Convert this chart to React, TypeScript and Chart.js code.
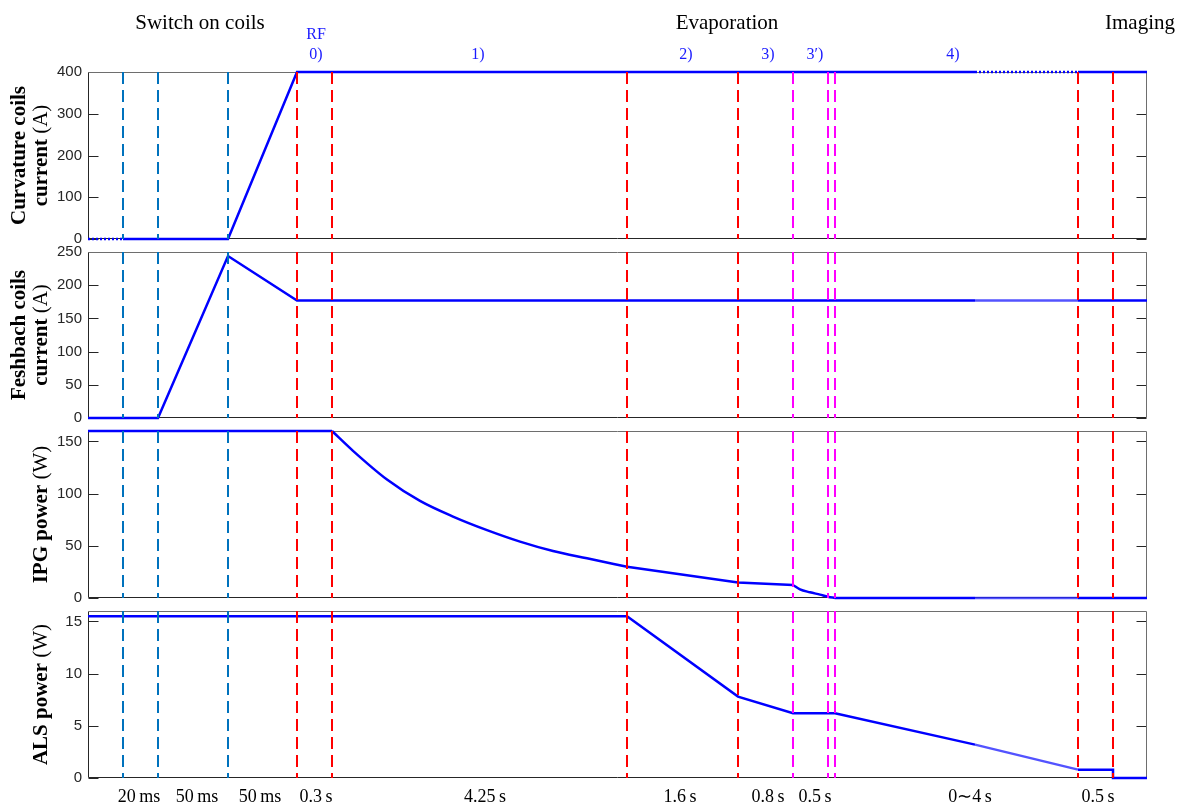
import React, { useEffect, useRef } from 'react';
import { Chart, registerables } from 'chart.js';
Chart.register(...registerables);

// x axis is a sequence-step axis (not proportional to time)
const X_MAX = 1059;

const blueLineX = [35, 70, 140];
const redLineX = [209, 244, 539, 650, 990, 1025];
const magentaLineX = [705, 740, 747];

const curvatureX = [0, 35, 140, 209, 887, 990, 1059];
const curvatureY = [0, 0, 0, 400, 400, 400, 400];
const feshbachX = [0, 70, 140, 209, 887, 990, 1059];
const feshbachY = [0, 0, 244, 177, 177, 177, 177];
const ipgX = [0, 244, 265, 299, 332, 365, 399, 432, 465, 499, 539, 650, 705, 712, 722, 732, 740, 747, 887, 990, 1059];
const ipgY = [160, 160, 141, 113.5, 93, 78, 65, 54, 45, 38, 30, 14.8, 12.5, 8.3, 5.5, 3.2, 1.2, 0, 0, 0, 0];
// index ranges of the IPG curve drawn as smooth (monotone) pieces
const ipgSmooth = [[1, 10], [12, 17]];
const alsX = [0, 539, 650, 705, 747, 887, 990, 1025, 1025, 1059];
const alsY = [15.5, 15.5, 7.8, 6.2, 6.2, 3.2, 0.8, 0.8, 0, 0];

const stageLabels = ['Switch on coils', 'Evaporation', 'Imaging'];
const stageX = [112, 639, 1052];
const phaseLabels = ['0)', '1)', '2)', '3)', '3\u2032)', '4)'];
const phaseX = [228, 390, 598, 680, 727, 865];
const durationLabels = ['20\u2009ms', '50\u2009ms', '50\u2009ms', '0.3\u2009s', '4.25\u2009s', '1.6\u2009s', '0.8\u2009s', '0.5\u2009s', '0\u223C4\u2009s', '0.5\u2009s'];
const durationX = [51, 109, 172, 228, 397, 592, 680, 727, 882, 1010];

type Span = { t: string; b: boolean };

const panels = [
  { top: 0, height: 255, padTop: 72, padBottom: 16, max: 400, step: 100, xs: curvatureX, ys: curvatureY, dotted: true, smooth: [] as number[][],
    title: [[{ t: 'Curvature coils', b: true }], [{ t: 'current ', b: true }, { t: '(A)', b: false }]] as Span[][] },
  { top: 236, height: 198, padTop: 16, padBottom: 16, max: 250, step: 50, xs: feshbachX, ys: feshbachY, dotted: false, smooth: [] as number[][],
    title: [[{ t: 'Feshbach coils', b: true }], [{ t: 'current ', b: true }, { t: '(A)', b: false }]] as Span[][] },
  { top: 415, height: 199, padTop: 16, padBottom: 16, max: 160, step: 50, xs: ipgX, ys: ipgY, dotted: false, smooth: ipgSmooth,
    title: [[{ t: 'IPG power ', b: true }, { t: '(W)', b: false }]] as Span[][] },
  { top: 595, height: 209, padTop: 16, padBottom: 26, max: 16, step: 5, xs: alsX, ys: alsY, dotted: false, smooth: [] as number[][],
    title: [[{ t: 'ALS power ', b: true }, { t: '(W)', b: false }]] as Span[][] },
];

const SERIF = '"Liberation Serif", "Times New Roman", serif';

function framePlugin() {
  return {
    id: 'frame',
    beforeDatasetsDraw(chart: any) {
      const { ctx, chartArea: a, scales } = chart;
      const L = Math.round(a.left) + 0.5, R = Math.round(a.right) - 0.5;
      const T = Math.round(a.top) + 0.5, B = Math.round(a.bottom) - 0.5;
      ctx.save();
      ctx.lineWidth = 1;
      ctx.strokeStyle = '#262626';
      scales.y.ticks.forEach((t: any) => {
        const py = Math.round(scales.y.getPixelForValue(t.value)) + 0.5;
        ctx.beginPath();
        ctx.moveTo(L, py); ctx.lineTo(L + 10, py);
        ctx.moveTo(R, py); ctx.lineTo(R - 10, py);
        ctx.stroke();
      });
      ctx.beginPath();
      ctx.moveTo(L, T); ctx.lineTo(L, B); ctx.lineTo(R, B);
      ctx.stroke();
      ctx.strokeStyle = '#6e6e6e';
      ctx.beginPath();
      ctx.moveTo(L, T); ctx.lineTo(R, T); ctx.lineTo(R, B);
      ctx.stroke();
      ctx.restore();
    },
  };
}

function titlePlugin(lines: Span[][]) {
  return {
    id: 'ytitle',
    afterDraw(chart: any) {
      const { ctx, chartArea: a } = chart;
      const cy = (a.top + a.bottom) / 2;
      const baselines = lines.length === 2 ? [25, 47] : [47];
      ctx.save();
      ctx.fillStyle = '#000';
      lines.forEach((spans, i) => {
        const fonts = spans.map((s) => `${s.b ? 'bold ' : ''}21px ${SERIF}`);
        const widths = spans.map((s, k) => { ctx.font = fonts[k]; return ctx.measureText(s.t).width; });
        const total = widths.reduce((p, w) => p + w, 0);
        ctx.save();
        ctx.translate(baselines[i], cy);
        ctx.rotate(-Math.PI / 2);
        ctx.textBaseline = 'alphabetic';
        ctx.textAlign = 'left';
        let x = -total / 2;
        spans.forEach((s, k) => { ctx.font = fonts[k]; ctx.fillText(s.t, x, 0); x += widths[k]; });
        ctx.restore();
      });
      ctx.restore();
    },
  };
}

const topTextPlugin = {
  id: 'topText',
  afterDraw(chart: any) {
    const { ctx, scales } = chart;
    const xs = scales.x;
    ctx.save();
    ctx.textAlign = 'center';
    ctx.textBaseline = 'alphabetic';
    ctx.fillStyle = '#000';
    ctx.font = `21px ${SERIF}`;
    stageLabels.forEach((t, i) => ctx.fillText(t, xs.getPixelForValue(stageX[i]), 29));
    ctx.fillStyle = '#1a1aff';
    ctx.font = `16px ${SERIF}`;
    ctx.fillText('RF', xs.getPixelForValue(phaseX[0]), 39);
    phaseLabels.forEach((t, i) => ctx.fillText(t, xs.getPixelForValue(phaseX[i]), 59));
    ctx.restore();
  },
};

const bottomTextPlugin = {
  id: 'bottomText',
  afterDraw(chart: any) {
    const { ctx, scales, chartArea: a } = chart;
    const xs = scales.x;
    ctx.save();
    ctx.textAlign = 'center';
    ctx.textBaseline = 'alphabetic';
    ctx.fillStyle = '#000';
    ctx.font = `18px ${SERIF}`;
    durationLabels.forEach((t, i) => ctx.fillText(t, xs.getPixelForValue(durationX[i]), a.bottom + 24));
    ctx.restore();
  },
};

function vline(x: number, max: number, color: string) {
  return {
    data: [{ x, y: max }, { x, y: 0 }],
    borderColor: color,
    borderWidth: 2,
    borderDash: [12, 6],
    pointRadius: 0,
    fill: false,
  };
}

function makeConfig(p: typeof panels[number], i: number): any {
  const inFade = (c: any) => c.p0.parsed.x >= 887 && c.p1.parsed.x <= 990;
  const pts = p.xs.map((x, k) => ({ x, y: p.ys[k] }));
  const isSmoothSeg = (k0: number) => p.smooth.some(([a, b]) => k0 >= a && k0 < b);
  const curve = {
    data: pts,
    borderColor: '#0000ff',
    borderWidth: 2.5,
    pointRadius: 0,
    fill: false,
    tension: 0,
    clip: false,
    segment: {
      borderDash: (c: any) => (p.dotted && (c.p1.parsed.x <= 35 || inFade(c)) ? [2, 2] : undefined),
      borderColor: (c: any) =>
        isSmoothSeg(c.p0DataIndex) ? 'rgba(0,0,0,0)' : (!p.dotted && inFade(c) ? 'rgba(40,40,255,0.8)' : undefined),
    },
  };
  const smoothSets = p.smooth.map(([a, b]) => ({
    data: pts.slice(a, b + 1),
    borderColor: '#0000ff',
    borderWidth: 2.5,
    pointRadius: 0,
    fill: false,
    clip: false,
    cubicInterpolationMode: 'monotone',
  }));
  const lines = [
    ...blueLineX.map((x) => vline(x, p.max, '#0072BD')),
    ...redLineX.map((x) => vline(x, p.max, '#ff0000')),
    ...magentaLineX.map((x) => vline(x, p.max, '#ff00ff')),
  ];
  const plugins: any[] = [framePlugin(), titlePlugin(p.title)];
  if (i === 0) plugins.push(topTextPlugin);
  if (i === 3) plugins.push(bottomTextPlugin);
  return {
    type: 'line',
    data: { datasets: [...lines, curve, ...smoothSets] },
    plugins,
    options: {
      responsive: false,
      animation: false,
      devicePixelRatio: 1,
      layout: { padding: { left: 0, right: 32, top: p.padTop, bottom: p.padBottom } },
      plugins: { legend: { display: false }, tooltip: { enabled: false } },
      scales: {
        x: { type: 'linear', min: 0, max: X_MAX, display: false },
        y: {
          min: 0,
          max: p.max,
          afterFit: (s: any) => { s.width = 88; },
          grid: { display: false, drawTicks: false },
          border: { display: false },
          ticks: {
            stepSize: p.step,
            includeBounds: false,
            padding: 6,
            color: '#262626',
            font: { family: '"Liberation Sans", Arial, sans-serif', size: 15 },
          },
        },
      },
    },
  };
}

export default function App() {
  const r0 = useRef<HTMLCanvasElement>(null);
  const r1 = useRef<HTMLCanvasElement>(null);
  const r2 = useRef<HTMLCanvasElement>(null);
  const r3 = useRef<HTMLCanvasElement>(null);
  const refs = [r0, r1, r2, r3];
  useEffect(() => {
    const charts = panels.map((p, i) => new Chart(refs[i].current as HTMLCanvasElement, makeConfig(p, i)));
    return () => charts.forEach((c) => c.destroy());
  }, []);
  return (
    <div style={{ position: 'absolute', left: 0, top: 0, width: 1179, height: 804, background: '#fff', overflow: 'hidden' }}>
      {panels.map((p, i) => (
        <canvas
          key={i}
          ref={refs[i]}
          width={1179}
          height={p.height}
          style={{ position: 'absolute', left: 0, top: p.top, width: 1179, height: p.height }}
        />
      ))}
    </div>
  );
}
